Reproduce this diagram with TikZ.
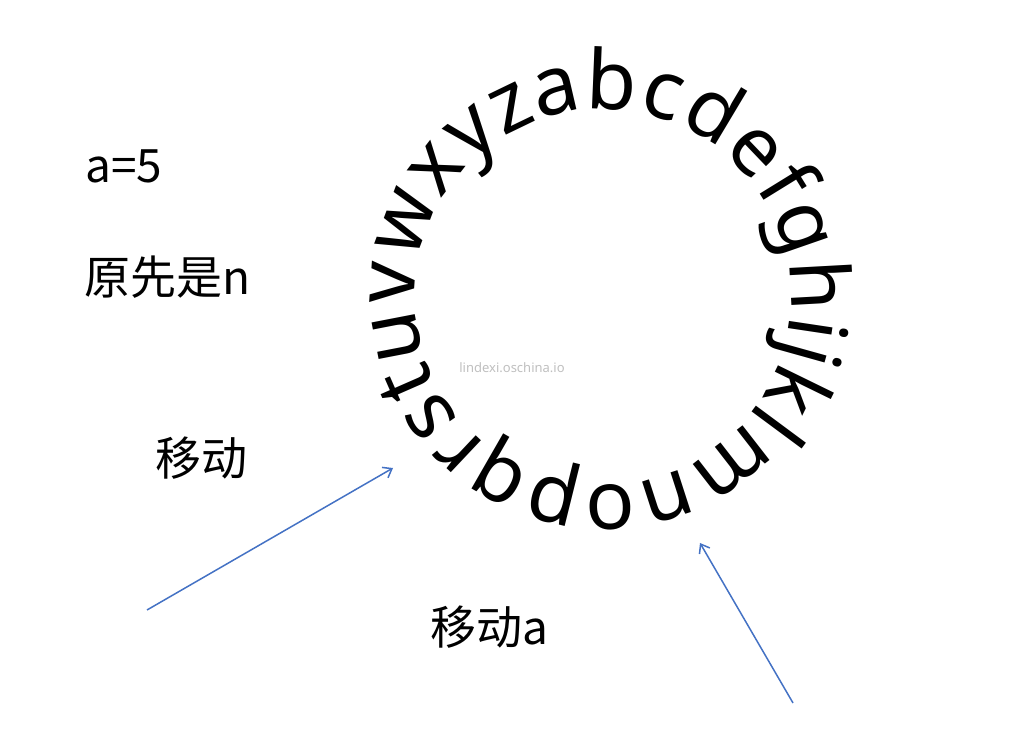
\documentclass[tikz,border=0pt]{standalone}
\usepackage{fontspec}
\setmainfont{Noto Sans}
\newfontfamily\cjk{Noto Sans CJK SC}
\usetikzlibrary{calc,decorations.text,arrows.meta}
\definecolor{arrowblue}{RGB}{68,114,196}
\tikzset{
  note/.style={font=\cjk\fontsize{46}{46}\selectfont, inner sep=0pt},
  move arrow/.style={draw=arrowblue, line width=1.5pt, -{Straight Barb[length=8pt,width=12pt]}},
}
\begin{document}
\begin{tikzpicture}[x=1pt,y=1pt]
\useasboundingbox (0,0) rectangle (1027,735);
\coordinate (centre) at (603,438);
% alphabet round the circle
\path[decorate, decoration={text along path, text align={fit to path},
  text={|\fontsize{82}{82}\selectfont|abcdefghijklmnopqrstuvwxyz}}]
  ($(centre)+(110:188)$) arc[start angle=110, end angle=-250, radius=188];
\node[font=\fontsize{13}{13}\selectfont, text=black!25] (mark) at (512,367) {lindexi.oschina.io};
% labels
\node[note] (given) at (124,569) {a=5};
\node[note] (before) at (168,458) {原先是n};
\node[note] (move) at (201,277) {移动};
\node[note] (movea) at (489,108) {移动a};
% arrows
\coordinate (tail1) at (147,125);
\coordinate (head1) at (393,267);
\coordinate (tail2) at (793,32);
\coordinate (head2) at (700,192);
\draw[move arrow] (tail1) -- (head1);
\draw[move arrow] (tail2) -- (head2);
\end{tikzpicture}
\end{document}
